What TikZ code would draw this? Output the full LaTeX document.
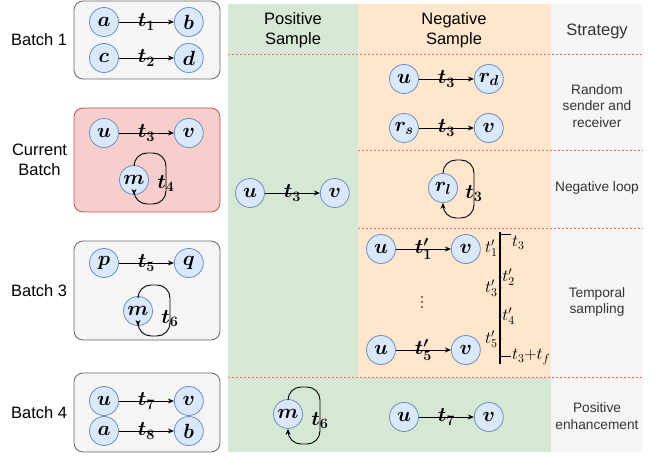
\RequirePackage{fix-cm}
\documentclass[tikz,border=0pt]{standalone}
\usepackage[no-math]{fontspec}
\setmainfont{Liberation Sans}
\usetikzlibrary{arrows.meta,positioning,calc}
\definecolor{entfill}{HTML}{DAE8FC}
\definecolor{entdraw}{HTML}{6C8EBF}
\definecolor{posbg}{HTML}{D5E8D4}
\definecolor{negbg}{HTML}{FFE6CC}
\definecolor{grybg}{HTML}{F5F5F5}
\definecolor{grydraw}{HTML}{666666}
\definecolor{curfill}{HTML}{F8CECC}
\definecolor{curdraw}{HTML}{B85450}
\definecolor{sepred}{HTML}{EA6B66}
\tikzset{
  ent/.style={circle,draw=entdraw,fill=entfill,line width=0.8pt,minimum size=29pt,inner sep=0pt,font=\fontsize{20.5}{20.5}\selectfont\boldmath},
  bbox/.style={draw=grydraw,fill=grybg,rounded corners=9pt,line width=0.8pt,minimum width=146pt},
  curbox/.style={bbox,draw=curdraw,fill=curfill},
  arr/.style={-{Stealth[length=6pt,width=5pt]},line width=0.9pt},
  lp/.style={arr,rounded corners=13pt},
  tlbl/.style={font=\fontsize{20.5}{20.5}\selectfont\boldmath,inner sep=0pt},
  tslbl/.style={font=\fontsize{17}{17}\selectfont,inner sep=0.5pt},
  hdr/.style={font=\fontsize{16.5}{20}\selectfont,align=center},
  strat/.style={font=\fontsize{13.7}{16.5}\selectfont,align=center,text=black!80},
  sepline/.style={dash pattern=on 2pt off 2pt,draw=sepred,line width=0.6pt},
  tline/.style={line width=1.4pt},
  tdot/.style={circle,fill,inner sep=0pt,minimum size=3pt},
  edot/.style={circle,fill,inner sep=0pt,minimum size=1.6pt}
}
\begin{document}
\begin{tikzpicture}[x=1pt,y=-1pt,node distance=55pt,label distance=0pt]
  \useasboundingbox (0,0) rectangle (662,457);
  % Column backgrounds
  \fill[posbg] (228,4) rectangle (358,452);
  \fill[negbg] (358,4) rectangle (551,377);
  \fill[posbg] (358,377) rectangle (551,452);
  \fill[grybg] (551,4) rectangle (643,452);
  \draw[sepline] (228,54) -- (643,54);
  \draw[sepline] (358,150) -- (643,150);
  \draw[sepline] (358,228) -- (643,228);
  \draw[sepline] (228,377) -- (643,377);

  % Headers
  \node[hdr] (hpos) at (293,30) {Positive\\Sample};
  \node[hdr] (hneg) at (454,30) {Negative\\Sample};
  \node[hdr,text=black!80] (hstr) at (597,31) {Strategy};

  % Strategies
  \node[strat] (srnd) at (597,106) {Random\\sender and\\receiver};
  \node[strat] (sloop) at (597,188) {Negative loop};
  \node[strat] (stmp) at (597,302) {Temporal\\sampling};
  \node[strat] (senh) at (597,416) {Positive\\enhancement};

  % Batch 1
  \node[bbox,minimum height=78pt] (B1) at (147,40) {};
  \node[hdr,left=3pt of B1] (lB1) {Batch 1};
  \node[ent] (a1) at (104,22) {$a$};
  \node[ent,right=of a1] (b1) {$b$};
  \node[ent] (c1) at (104,58) {$c$};
  \node[ent,right=of c1] (d1) {$d$};
  \draw[arr] (a1) -- node[tlbl] {$t_1$} (b1);
  \draw[arr] (c1) -- node[tlbl] {$t_2$} (d1);

  % Current Batch
  \node[curbox,minimum height=104pt] (B2) at (147,160) {};
  \node[hdr,left=3pt of B2] (lB2) {Current\\Batch};
  \node[ent] (u2) at (104,133) {$u$};
  \node[ent,right=of u2] (v2) {$v$};
  \draw[arr] (u2) -- node[tlbl] {$t_3$} (v2);
  \node[ent] (m2) at (134,180) {$m$};
  \coordinate (k2) at (166,153);
  \coordinate (j2) at (166,204);
  \draw[lp] (m2.north) |- (k2) -- node[tlbl,pos=0.6] {$t_4$} (j2) -| (m2.south);

  % Batch 3
  \node[bbox,minimum height=99pt] (B3) at (147,290.5) {};
  \node[hdr,left=3pt of B3] (lB3) {Batch 3};
  \node[ent] (p3) at (104,263) {$p$};
  \node[ent,right=of p3] (q3) {$q$};
  \draw[arr] (p3) -- node[tlbl] {$t_5$} (q3);
  \node[ent] (m3) at (138,311) {$m$};
  \coordinate (k3) at (170,285);
  \coordinate (j3) at (170,336);
  \draw[lp] (m3.north) |- (k3) -- node[tlbl,pos=0.65] {$t_6$} (j3) -| (m3.south);

  % Batch 4
  \node[bbox,minimum height=79pt] (B4) at (147,412.5) {};
  \node[hdr,left=3pt of B4] (lB4) {Batch 4};
  \node[ent] (u4) at (104,401) {$u$};
  \node[ent,right=of u4] (v4) {$v$};
  \node[ent] (a4) at (104,431) {$a$};
  \node[ent,right=of a4] (b4) {$b$};
  \draw[arr] (u4) -- node[tlbl] {$t_7$} (v4);
  \draw[arr] (a4) -- node[tlbl] {$t_8$} (b4);

  % Positive sample
  \node[ent] (up) at (250,193) {$u$};
  \node[ent,right=of up] (vp) {$v$};
  \draw[arr] (up) -- node[tlbl] {$t_3$} (vp);

  % Random sender and receiver
  \node[ent] (un) at (404,79) {$u$};
  \node[ent,right=of un] (rd) {$r_d$};
  \draw[arr] (un) -- node[tlbl] {$t_3$} (rd);
  \node[ent] (rs) at (404,128) {$r_s$};
  \node[ent,right=of rs] (vn) {$v$};
  \draw[arr] (rs) -- node[tlbl] {$t_3$} (vn);

  % Negative loop
  \node[ent] (rl) at (443,188) {$r_l$};
  \coordinate (kl) at (474,160);
  \coordinate (jl) at (474,218);
  \draw[lp] (rl.north) |- (kl) -- node[tlbl,pos=0.57] {$t_3$} (jl) -| (rl.south);

  % Temporal sampling
  \node[ent] (ut1) at (381,249) {$u$};
  \node[ent,right=of ut1] (vt1) {$v$};
  \draw[arr] (ut1) -- node[tlbl] {$t'_1$} (vt1);
  \foreach \y in {297,302,307}
    \node[edot] (vd\y) at (422,\y) {};
  \node[ent] (ut5) at (381,350) {$u$};
  \node[ent,right=of ut5] (vt5) {$v$};
  \draw[arr] (ut5) -- node[tlbl] {$t'_5$} (vt5);

  % Time axis
  \coordinate (tl0) at (500,232);
  \coordinate (tl9) at (500,364);
  \draw[tline] (tl0) -- (tl9);
  \coordinate (tk0) at (500,235);
  \coordinate (tk0e) at (511,235);
  \draw[line width=1pt] (tk0) -- (tk0e) node[tslbl,anchor=north west] (lt0) {$t_3$};
  \coordinate (tk6) at (500,357);
  \coordinate (tk6e) at (511,357);
  \draw[line width=1pt] (tk6) -- (tk6e) node[tslbl,anchor=west] (lt6) {$t_3{+}t_f$};
  \foreach \n/\y/\s in {1/248/left,2/277/right,3/288/left,4/316/right,5/339/left}
    \node[tdot,label={[tslbl]\s:$t'_{\n}$}] (td\n) at (500,\y) {};

  % Positive enhancement
  \node[ent] (me) at (288,414) {$m$};
  \coordinate (ke) at (320,387);
  \coordinate (je) at (320,444);
  \draw[lp] (me.north) |- (ke) -- node[tlbl,pos=0.58] {$t_6$} (je) -| (me.south);
  \node[ent] (ue) at (404,417) {$u$};
  \node[ent,right=of ue] (ve) {$v$};
  \draw[arr] (ue) -- node[tlbl] {$t_7$} (ve);
\end{tikzpicture}
\end{document}
